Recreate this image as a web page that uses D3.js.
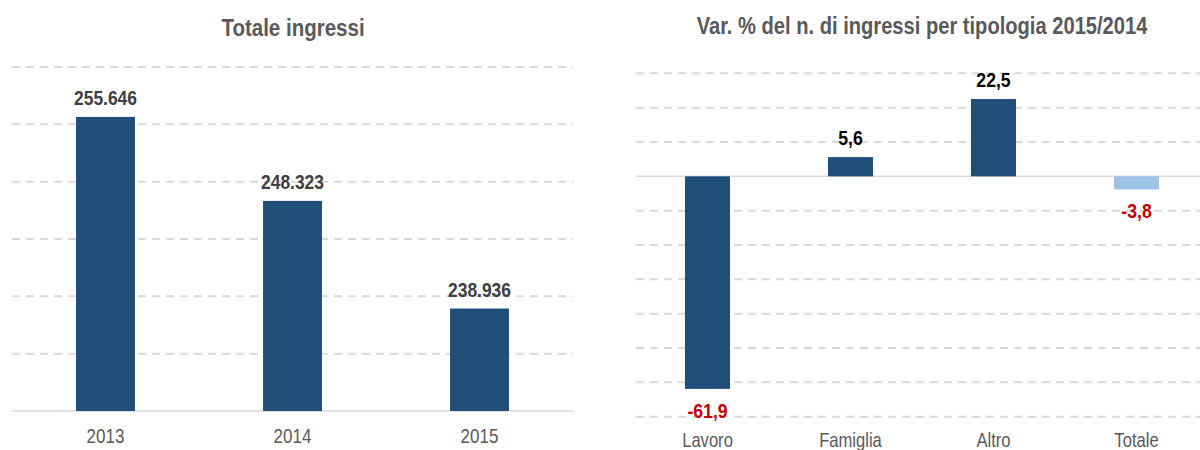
<!DOCTYPE html>
<html>
<head>
<meta charset="utf-8">
<script src="https://cdn.jsdelivr.net/npm/d3@7"></script>
<style>
  body { margin: 0; background: #fff; }
  text { font-family: "Liberation Sans Narrow", "Arial Narrow", "Liberation Sans", Arial, sans-serif; }
</style>
</head>
<body>
<script>
const years = ["2013", "2014", "2015"];
const totals = [255646, 248323, 238936];
const leftTicks = [230000, 235000, 240000, 245000, 250000, 255000, 260000];

const types = ["Lavoro", "Famiglia", "Altro", "Totale"];
const varPct = [-61.9, 5.6, 22.5, -3.8];
const rightTicks = [-70, -60, -50, -40, -30, -20, -10, 0, 10, 20, 30];

const w = 1200;
const h = 450;
const it = d3.formatLocale({ decimal: ",", thousands: ".", grouping: [3], currency: ["€", ""], minus: "-" });
const fmtTot = it.format(",.0f");
const fmtPct = it.format(".1f");

// no narrow font installed, so squeeze the text horizontally
function narrow(sel, k) {
  sel.each(function() {
    const t = d3.select(this);
    const x = +t.attr("x") || 0;
    const y = +t.attr("y") || 0;
    t.attr("x", 0).attr("y", 0)
      .attr("transform", `translate(${x},${y}) scale(${k},1)`);
  });
}

const svg = d3.select("body")
  .append("svg")
  .attr("width", w)
  .attr("height", h);

// ---- left chart
const x1 = d3.scaleBand().domain(years).range([12, 573]).paddingInner(0.685).paddingOuter(0.3425);
const y1 = d3.scaleLinear().domain([230000, 260000]).range([411, 67]);

svg.append("text")
  .text("Totale ingressi")
  .attr("x", 293).attr("y", 36)
  .attr("text-anchor", "middle")
  .style("font-size", "24px").style("font-weight", "bold").style("fill", "#595959")
  .call(narrow, 0.855);

svg.append("g").selectAll("line")
  .data(leftTicks)
  .join("line")
  .attr("x1", 12).attr("x2", 573)
  .attr("y1", d => y1(d)).attr("y2", d => y1(d))
  .attr("stroke", "#d9d9d9")
  .attr("stroke-width", d => d === 230000 ? 1.5 : 2)
  .attr("stroke-dasharray", d => d === 230000 ? null : "8,6");

svg.append("g").selectAll("rect")
  .data(totals)
  .join("rect")
  .attr("x", (d, i) => x1(years[i]))
  .attr("y", d => y1(d))
  .attr("width", x1.bandwidth())
  .attr("height", d => y1(230000) - y1(d))
  .style("fill", "#1f4e79");

svg.append("g").selectAll("text")
  .data(totals)
  .join("text")
  .text(d => fmtTot(d))
  .attr("x", (d, i) => x1(years[i]) + x1.bandwidth() / 2)
  .attr("y", d => y1(d) - 12)
  .attr("text-anchor", "middle")
  .style("font-size", "21px").style("font-weight", "bold").style("fill", "#404040")
  .call(narrow, 0.83);

const ax1 = svg.append("g")
  .attr("transform", "translate(0,411)")
  .call(d3.axisBottom(x1).tickSize(0).tickPadding(18));
ax1.select(".domain").remove();
ax1.selectAll("text")
  .style("font-size", "20px").style("fill", "#595959")
  .style("font-family", '"Liberation Sans Narrow", "Arial Narrow", "Liberation Sans", Arial, sans-serif')
  .call(narrow, 0.85);

// ---- right chart
const x2 = d3.scaleBand().domain(types).range([636, 1208]).paddingInner(0.685).paddingOuter(0.3425);
const y2 = d3.scaleLinear().domain([-70, 30]).range([416.7, 73.3]);

svg.append("text")
  .text("Var. % del n. di ingressi per tipologia 2015/2014")
  .attr("x", 922).attr("y", 34)
  .attr("text-anchor", "middle")
  .style("font-size", "23px").style("font-weight", "bold").style("fill", "#595959")
  .call(narrow, 0.875);

svg.append("g").selectAll("line")
  .data(rightTicks)
  .join("line")
  .attr("x1", 636).attr("x2", 1200)
  .attr("y1", d => y2(d)).attr("y2", d => y2(d))
  .attr("stroke", "#d9d9d9")
  .attr("stroke-width", d => d === 0 ? 1.5 : 2)
  .attr("stroke-dasharray", d => d === 0 ? null : "8,6");

svg.append("g").selectAll("rect")
  .data(varPct)
  .join("rect")
  .attr("x", (d, i) => x2(types[i]))
  .attr("y", d => y2(Math.max(0, d)))
  .attr("width", x2.bandwidth())
  .attr("height", d => Math.abs(y2(d) - y2(0)))
  .style("fill", (d, i) => types[i] === "Totale" ? "#9dc3e6" : "#1f4e79");

svg.append("g").selectAll("text")
  .data(varPct)
  .join("text")
  .text(d => fmtPct(d))
  .attr("x", (d, i) => x2(types[i]) + x2.bandwidth() / 2)
  .attr("y", d => d >= 0 ? y2(d) - 12.5 : y2(d) + 29)
  .attr("text-anchor", "middle")
  .style("font-size", "21px").style("font-weight", "bold")
  .style("fill", d => d >= 0 ? "#000000" : "#c00000")
  .call(narrow, 0.84);

const ax2 = svg.append("g")
  .attr("transform", "translate(0,416.7)")
  .call(d3.axisBottom(x2).tickSize(0).tickPadding(16));
ax2.select(".domain").remove();
ax2.selectAll("text")
  .style("font-size", "20px").style("fill", "#595959")
  .style("font-family", '"Liberation Sans Narrow", "Arial Narrow", "Liberation Sans", Arial, sans-serif')
  .call(narrow, 0.83);
</script>
</body>
</html>
